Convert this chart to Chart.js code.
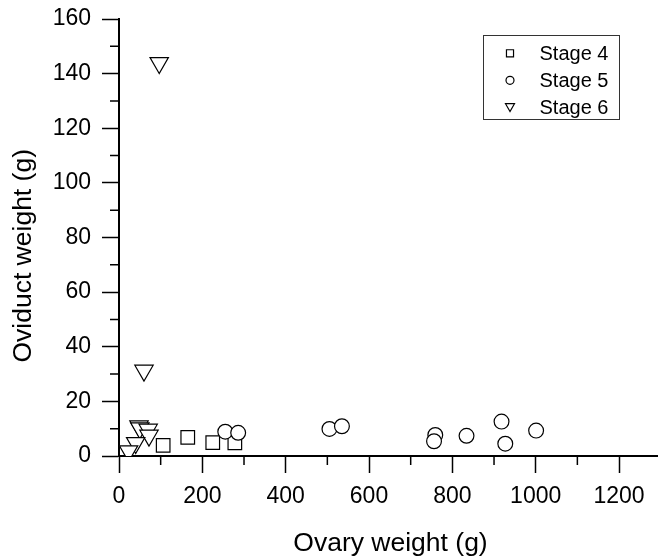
<!DOCTYPE html>
<html><head><meta charset="utf-8">
<script src="https://cdn.jsdelivr.net/npm/chart.js@4/dist/chart.umd.min.js"></script>
<style>html,body{margin:0;padding:0;background:#fff;overflow:hidden}canvas{display:block}</style>
</head><body>
<canvas id="c" width="658" height="559"></canvas>
<script>
const seriesNames = ['Stage 4', 'Stage 5', 'Stage 6'];
const stage4X = [106, 165, 225, 278];
const stage4Y = [3.9, 6.8, 4.9, 4.8];
const stage5X = [255, 286, 505, 535, 759, 756, 834, 918, 927, 1001];
const stage5Y = [8.9, 8.5, 9.9, 10.9, 7.7, 5.4, 7.4, 12.6, 4.5, 9.3];
const stage6X = [96.5, 60, 48, 50, 70, 72, 40, 23];
const stage6Y = [143.9, 31.3, 10.9, 10.2, 9.7, 7.5, 4.8, 1.8];
const xTickValues = [0, 200, 400, 600, 800, 1000, 1200];
const yTickValues = [0, 20, 40, 60, 80, 100, 120, 140, 160];
const xMinorValues = [100, 300, 500, 700, 900, 1100];
const yMinorValues = [10, 30, 50, 70, 90, 110, 130, 150];
const xTitle = 'Ovary weight (g)';
const yTitle = 'Oviduct weight (g)';

const FONT = '"Liberation Sans", Arial, sans-serif';
const toPts = (xs, ys) => xs.map((x, i) => ({x: x, y: ys[i]}));
const styles = ['rect', 'circle', 'triangle'];
const radii = [9.6, 7.4, 10.6];
const rots = [0, 0, 180];
const dataLists = [toPts(stage4X, stage4Y), toPts(stage5X, stage5Y), toPts(stage6X, stage6Y)];

const datasets = seriesNames.map((n, i) => ({
  label: n,
  data: dataLists[i],
  pointStyle: styles[i],
  pointRadius: radii[i],
  pointHoverRadius: radii[i],
  pointRotation: rots[i],
  borderColor: '#000',
  backgroundColor: '#fff',
  pointBorderWidth: 1.2,
  borderWidth: 1.2,
  showLine: false,
  clip: 0,
  order: 3 - i
}));

function drawMarker(ctx, style, x, y, r) {
  ctx.beginPath();
  if (style === 'rect') {
    const s = r * Math.SQRT1_2;
    ctx.rect(x - s, y - s, 2 * s, 2 * s);
  } else if (style === 'circle') {
    ctx.arc(x, y, r, 0, Math.PI * 2);
  } else {
    ctx.moveTo(x, y + r);
    ctx.lineTo(x - r * 0.866, y - r / 2);
    ctx.lineTo(x + r * 0.866, y - r / 2);
    ctx.closePath();
  }
  ctx.fill();
  ctx.stroke();
}

const decor = {
  id: 'decor',
  afterDraw(chart) {
    const ctx = chart.ctx, xs = chart.scales.x, ys = chart.scales.y, a = chart.chartArea;
    ctx.save();
    ctx.strokeStyle = '#000';
    ctx.lineWidth = 1.5;
    ctx.beginPath();
    xMinorValues.forEach(v => { const p = xs.getPixelForValue(v); ctx.moveTo(p, a.bottom); ctx.lineTo(p, a.bottom + 9); });
    yMinorValues.forEach(v => { const p = ys.getPixelForValue(v); ctx.moveTo(a.left, p); ctx.lineTo(a.left - 9, p); });
    ctx.stroke();

    ctx.fillStyle = '#000';
    ctx.font = '26.5px ' + FONT;
    ctx.textAlign = 'center';
    ctx.textBaseline = 'alphabetic';
    ctx.fillText(xTitle, 390.5, 551);
    ctx.save();
    ctx.translate(31, 255.8);
    ctx.rotate(-Math.PI / 2);
    ctx.fillText(yTitle, 0, 0);
    ctx.restore();

    // legend
    const lx = 483.5, ly = 35.5, lw = 136, lh = 84;
    ctx.lineWidth = 1;
    ctx.strokeStyle = '#333';
    ctx.strokeRect(lx, ly, lw, lh);
    const rowY = [53.3, 80.3, 107.3];
    const legR = [5, 4, 5.2];
    ctx.font = '20px ' + FONT;
    ctx.textAlign = 'left';
    ctx.textBaseline = 'middle';
    seriesNames.forEach((n, i) => {
      ctx.strokeStyle = '#000';
      ctx.fillStyle = '#fff';
      ctx.lineWidth = 1.2;
      drawMarker(ctx, styles[i], 510, rowY[i] + (i === 2 ? -1 : 0), legR[i]);
      ctx.fillStyle = '#000';
      ctx.fillText(n, 539.5, rowY[i] + 1);
    });
    ctx.restore();
  }
};

new Chart(document.getElementById('c'), {
  type: 'scatter',
  data: { datasets: datasets },
  options: {
    responsive: false,
    animation: false,
    devicePixelRatio: 1,
    layout: { autoPadding: false, padding: { top: 19, right: 0, left: 0, bottom: 0 } },
    plugins: { legend: { display: false }, tooltip: { enabled: false } },
    scales: {
      x: {
        type: 'linear',
        min: 0,
        max: 1293.5,
        afterBuildTicks: s => { s.ticks = xTickValues.map(v => ({value: v})); },
        afterFit: s => { s.height = 103; s.paddingLeft = 0; s.paddingRight = 0; },
        grid: { display: true, drawOnChartArea: false, drawTicks: true, tickLength: 17, tickWidth: 1.5, tickColor: '#000' },
        border: { display: true, color: '#000', width: 2 },
        ticks: { color: '#000', font: { family: FONT, size: 23 }, padding: 10, maxRotation: 0, autoSkip: false, callback: v => String(v) },
        title: { display: false, text: xTitle }
      },
      y: {
        type: 'linear',
        min: 0,
        max: 160,
        afterBuildTicks: s => { s.ticks = yTickValues.map(v => ({value: v})); },
        afterFit: s => { s.width = 119; s.paddingTop = 0; s.paddingBottom = 0; },
        grid: { display: true, drawOnChartArea: false, drawTicks: true, tickLength: 17, tickWidth: 1.5, tickColor: '#000' },
        border: { display: true, color: '#000', width: 2 },
        ticks: { color: '#000', font: { family: FONT, size: 23 }, padding: 11, autoSkip: false, callback: v => String(v) },
        title: { display: false, text: yTitle }
      }
    }
  },
  plugins: [decor]
});
</script>
</body></html>
